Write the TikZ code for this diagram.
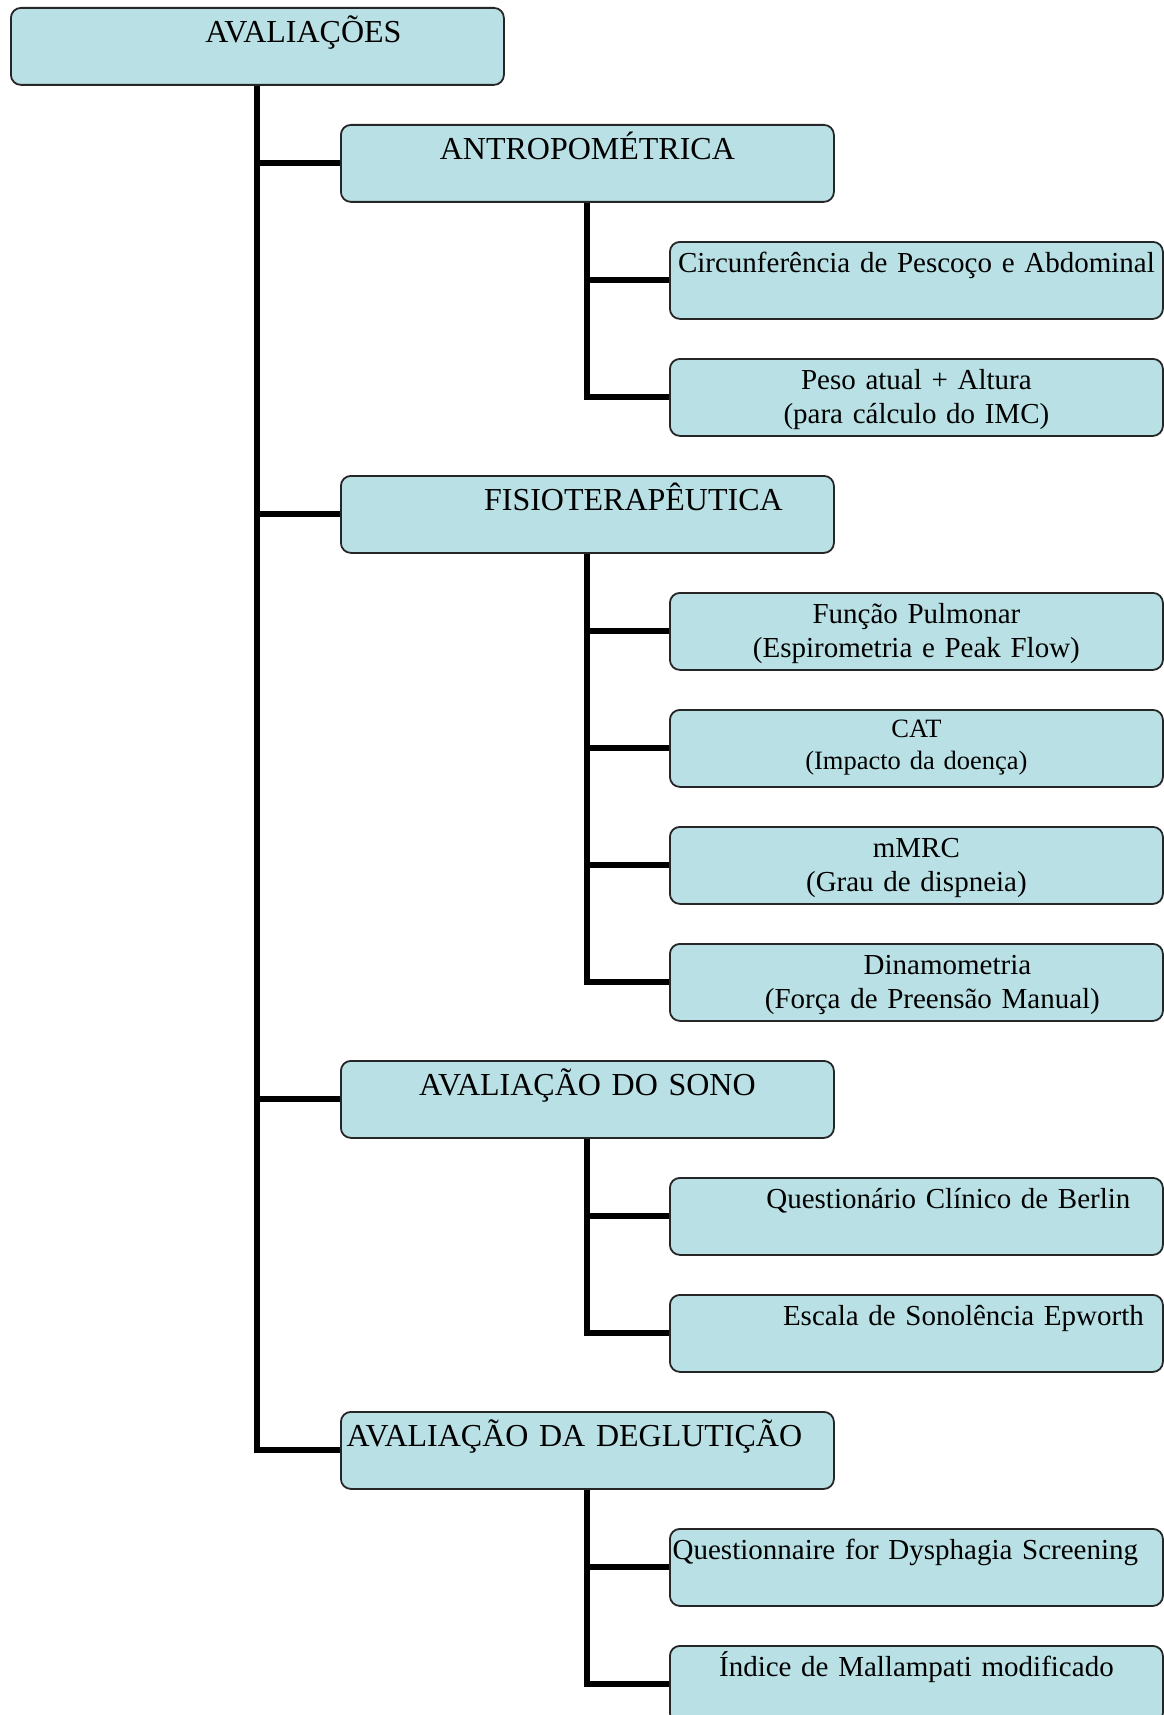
\documentclass[tikz,border=0pt]{standalone}
\usepackage{fontspec}
\setmainfont{Liberation Serif}
\usepackage{tikz}

\definecolor{boxfill}{RGB}{185,224,228}

\begin{document}
\begin{tikzpicture}[x=1pt, y=-1pt,
    box/.style={draw=black!85, line width=1.8pt, fill=boxfill, rounded corners=10pt,
      anchor=north west, inner sep=0pt, text width=493pt, align=center},
    bigbox/.style={box, font=\fontsize{32}{38}\selectfont, text height=34.5pt, text depth=42.5pt},
    smallbox/.style={box, font=\fontsize{29}{34}\selectfont, text height=31pt, text depth=46pt},
    link/.style={line width=6pt}]
    \useasboundingbox (0,0) rectangle (1163,1715);

    % Nodes
    \node[bigbox] (aval) at (10,7) {\hspace*{92pt}AVALIAÇÕES};

    \node[bigbox] (antro) at (340,124) {ANTROPOMÉTRICA};
    \node[smallbox] (circ) at (669,241) {Circunferência de Pescoço e Abdominal};
    \node[smallbox] (peso) at (669,358) {Peso atual + Altura\\(para cálculo do IMC)};

    \node[bigbox] (fisio) at (340,475) {\hspace*{92pt}FISIOTERAPÊUTICA};
    \node[smallbox] (funcao) at (669,592) {Função Pulmonar\\(Espirometria e Peak Flow)};
    \node[smallbox, font=\fontsize{26.5}{32}\selectfont, text height=27.5pt, text depth=49.5pt]
      (cat) at (669,709) {CAT\\(Impacto da doença)};
    \node[smallbox] (mmrc) at (669,826) {mMRC\\(Grau de dispneia)};
    \node[smallbox] (dinamo) at (669,943) {\hspace*{62pt}Dinamometria\\\hspace*{32pt}(Força de Preensão Manual)};

    \node[bigbox] (sono) at (340,1060) {AVALIAÇÃO DO SONO};
    \node[smallbox] (berlin) at (669,1177) {\hspace*{64pt}Questionário Clínico de Berlin};
    \node[smallbox] (epworth) at (669,1294) {\hspace*{94pt}Escala de Sonolência Epworth};

    \node[bigbox] (deglut) at (340,1411) {\hspace*{-26pt}AVALIAÇÃO DA DEGLUTIÇÃO};
    \node[smallbox] (dysph) at (669,1528) {\hspace*{-22pt}Questionnaire for Dysphagia Screening};
    \node[smallbox] (mallam) at (669,1645) {Índice de Mallampati modificado};

    % Edges
    \draw[link] (aval.south) |- (antro.west);
    \draw[link] (aval.south) |- (fisio.west);
    \draw[link] (aval.south) |- (sono.west);
    \draw[link] (aval.south) |- (deglut.west);

    \draw[link] (antro.south) |- (circ.west);
    \draw[link] (antro.south) |- (peso.west);

    \draw[link] (fisio.south) |- (funcao.west);
    \draw[link] (fisio.south) |- (cat.west);
    \draw[link] (fisio.south) |- (mmrc.west);
    \draw[link] (fisio.south) |- (dinamo.west);

    \draw[link] (sono.south) |- (berlin.west);
    \draw[link] (sono.south) |- (epworth.west);

    \draw[link] (deglut.south) |- (dysph.west);
    \draw[link] (deglut.south) |- (mallam.west);
\end{tikzpicture}
\end{document}
